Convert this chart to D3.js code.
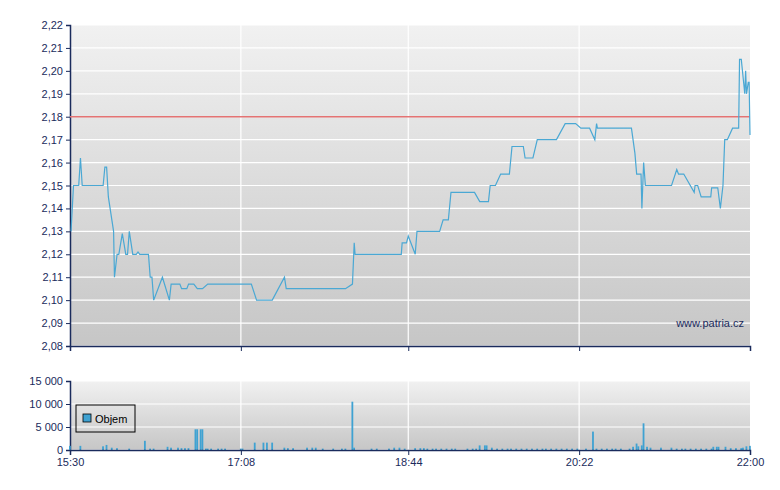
<!DOCTYPE html>
<html>
<head>
<meta charset="utf-8">
<script src="https://cdn.jsdelivr.net/npm/d3@7"></script>
<style>
body{margin:0;background:#fff}
text{font-family:"Liberation Sans",Arial,sans-serif;font-size:11px;fill:#1a2b5c}
</style>
</head>
<body>
<svg id="chart" width="780" height="490"></svg>
<script>
// minutes after 15:30, price
const priceMin=[0.6,2,5,6,7,19,20,21,22,25,25.5,27,28,30,32,33,34,36,38,39,40,45,46,47,48,53,57,58,63,64,67,68,71,73,76,79,104,107,116,123,124,158,162,163,163.5,190,190.5,193,194,198,199,212,214,217,218.5,232,235,240,241,244,247,252,253.5,260,261,265.5,268,279,284,290,293,298,301,302,302.5,322,324,325,327.5,328,329,330,345,348,349,352,358,358.5,360,362,367.5,368,371.5,373,374.5,375.5,377,380,383.5,384,385,387,387.5,388,389,389.5,390]
const priceVal=[2.13,2.15,2.15,2.162,2.15,2.15,2.158,2.158,2.145,2.13,2.11,2.12,2.12,2.129,2.12,2.12,2.13,2.12,2.12,2.121,2.12,2.12,2.11,2.11,2.10,2.11,2.10,2.107,2.107,2.105,2.105,2.107,2.107,2.105,2.105,2.107,2.107,2.10,2.10,2.11,2.105,2.105,2.107,2.125,2.12,2.12,2.125,2.125,2.128,2.12,2.13,2.13,2.135,2.135,2.147,2.147,2.143,2.143,2.15,2.15,2.155,2.155,2.167,2.167,2.162,2.162,2.17,2.17,2.177,2.177,2.175,2.175,2.17,2.177,2.175,2.175,2.164,2.155,2.155,2.14,2.16,2.15,2.15,2.157,2.155,2.155,2.147,2.15,2.15,2.145,2.145,2.149,2.149,2.14,2.15,2.17,2.17,2.175,2.175,2.205,2.205,2.19,2.20,2.19,2.195,2.195,2.172]
const volMin=[0,6,19,21,24,27,34,43,46,48,56,58,62,64,66,68,72,73,75,76,78,79,81,85,87,89,98,99,106,111,113,116,123,125,128,136,139,141,145,151,156,158,162,163,173,176,183,186,189,192,198,201,203,205,208,210,213,216,219,221,228,231,233,235,238,239,242,245,248,251,253,256,259,262,265,268,271,273,276,279,282,285,288,291,296,300,302,305,308,311,313,316,321,323,325,326,328,329,331,333,339,345,348,351,353,356,359,362,365,368,369,371,372,376,379,382,385,386,388,390]
const volVal=[900,900,800,1100,500,400,300,2000,300,300,700,500,500,400,400,400,4500,4500,4500,4500,300,300,300,300,300,300,300,300,1600,1600,1600,1600,500,400,400,500,500,500,300,300,300,300,10500,500,300,300,300,500,500,300,400,400,400,300,300,300,300,300,300,300,300,300,300,1000,1000,1000,500,300,300,300,300,300,300,300,300,300,300,300,300,300,300,300,300,300,300,4000,300,300,300,300,300,300,300,700,1400,800,1000,5800,700,500,500,500,300,300,300,300,300,300,300,300,700,700,700,700,400,400,400,500,800,900,6700]
const timeTicks=[0,98,194,292,390]
const timeLabels=['15:30','17:08','18:44','20:22','22:00']
const priceTicks=d3.range(2.08,2.2201,0.01)
const volTicks=[0,5000,10000,15000]
const refPrice=2.18

const svg=d3.select('#chart')
const left=70,right=750
const x=d3.scaleLinear().domain([0,390]).range([left,right])
const y=d3.scaleLinear().domain([2.08,2.22]).range([346,25])
const yv=d3.scaleLinear().domain([0,15000]).range([450,381])
const navy='#1a2b5c'

const defs=svg.append('defs')
const g=defs.append('linearGradient').attr('id','bg').attr('x1',0).attr('y1',0).attr('x2',0).attr('y2',1)
g.append('stop').attr('offset','0%').attr('stop-color','#f1f1f1')
g.append('stop').attr('offset','100%').attr('stop-color','#c6c6c6')

function panel(ys,ticks,fmt){
  const [b,t]=ys.range()
  svg.append('rect').attr('x',left).attr('y',t).attr('width',right-left).attr('height',b-t).attr('fill','url(#bg)')
  svg.append('g').selectAll('line').data(ticks).join('line')
    .attr('x1',left).attr('x2',right).attr('y1',d=>ys(d)).attr('y2',d=>ys(d))
    .attr('stroke','#fff').attr('stroke-width',1.2)
  svg.append('g').selectAll('line').data(timeTicks.slice(1,-1)).join('line')
    .attr('x1',d=>x(d)).attr('x2',d=>x(d)).attr('y1',t).attr('y2',b)
    .attr('stroke','#fff').attr('stroke-width',1.2)
  const ay=svg.append('g').attr('transform',`translate(${left},0)`)
    .call(d3.axisLeft(ys).tickValues(ticks).tickSize(4).tickFormat(fmt))
  ay.select('.domain').attr('stroke',navy).attr('stroke-width',1.5)
  ay.selectAll('line').attr('stroke',navy)
  ay.selectAll('text').style('fill',navy).attr('font-size',11)
}

panel(y,priceTicks,d=>d3.format('.2f')(d).replace('.',','))
panel(yv,volTicks,d=>d3.format(',')(d).replace(/,/g,' '))

// reference line
svg.append('line').attr('x1',left).attr('x2',right).attr('y1',y(refPrice)).attr('y2',y(refPrice))
  .attr('stroke','#e47373').attr('stroke-width',1.5)

const pts=priceMin.map((m,i)=>[m,priceVal[i]])
svg.append('path').datum(pts)
  .attr('fill','none').attr('stroke','#4aa8d4').attr('stroke-width',1.2)
  .attr('d',d3.line().x(d=>x(d[0])).y(d=>y(d[1])))

svg.append('g').selectAll('rect').data(volMin.map((m,i)=>[m,volVal[i]])).join('rect')
  .attr('x',d=>x(d[0])-1).attr('width',1.8)
  .attr('y',d=>yv(d[1])).attr('height',d=>yv(0)-yv(d[1]))
  .attr('fill','#3fa2d2')

// x axes
const ax1=svg.append('g').attr('transform','translate(0,346)')
  .call(d3.axisBottom(x).tickValues(timeTicks).tickSize(5).tickFormat(''))
const ax2=svg.append('g').attr('transform','translate(0,450)')
  .call(d3.axisBottom(x).tickValues(timeTicks).tickSize(5).tickFormat((d,i)=>timeLabels[i]))
;[ax1,ax2].forEach(a=>{
  a.select('.domain').attr('stroke',navy).attr('stroke-width',1.5)
  a.selectAll('line').attr('stroke',navy)
  a.selectAll('text').style('fill',navy).attr('font-size',11)
})

svg.append('text').attr('x',744).attr('y',327).attr('text-anchor','end').text('www.patria.cz')

// legend
const lg=svg.append('g').attr('transform','translate(76,405)')
lg.append('rect').attr('width',59).attr('height',27).attr('fill','none').attr('stroke','#000')
lg.append('rect').attr('x',7).attr('y',9).attr('width',8).attr('height',8).attr('fill','#3fa2d2').attr('stroke','#000').attr('stroke-width',0.8)
lg.append('text').attr('x',19).attr('y',17.5).style('fill','#000').text('Objem')
</script>
</body>
</html>
